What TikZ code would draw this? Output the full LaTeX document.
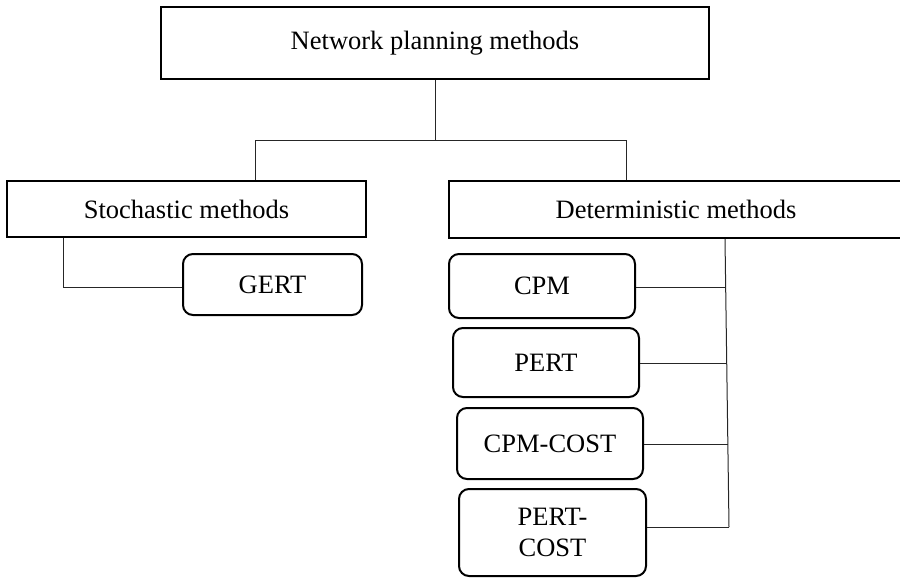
\documentclass[tikz,border=0pt]{standalone}
\usepackage{fontspec}
\setmainfont{Liberation Serif}
\begin{document}
\begin{tikzpicture}[x=1pt,y=-1pt,
  box/.style={draw=black, line width=2pt, inner sep=0pt, align=center,
    font=\fontsize{26.5}{31}\selectfont},
  rbox/.style={box, rounded corners=10pt},
  conn/.style={draw=black!85, line width=1pt}]
\useasboundingbox (0,0) rectangle (900,578);
\node[box, minimum width=548pt, minimum height=72pt] (top) at (435,43) {Network planning methods};
\node[box, minimum width=359pt, minimum height=56pt] (stoch) at (186.5,209) {Stochastic methods};
\node[box, minimum width=454pt, minimum height=57pt] (det) at (676,209.5) {Deterministic methods};
\node[rbox, minimum width=179pt, minimum height=61pt] (gert) at (272.5,284.5) {GERT};
\node[rbox, minimum width=186pt, minimum height=64pt] (cpm) at (542,286) {CPM};
\node[rbox, minimum width=186pt, minimum height=69pt] (pert) at (546,362.5) {PERT};
\node[rbox, minimum width=186pt, minimum height=71pt] (cpmcost) at (550,443.5) {CPM-COST};
\node[rbox, minimum width=187pt, minimum height=87pt] (pertcost) at (552.5,532.5) {PERT-\\COST};
% top tree
\coordinate (hl) at (255,140);
\coordinate (hr) at (626,140);
\draw[conn] (top.south) -- (top.south |- hl);
\draw[conn] (stoch.north -| hl) -- (hl) -- (hr) -- (det.north -| hr);
% stochastic
\coordinate (sg) at (63,287);
\draw[conn] (stoch.south -| sg) -- (sg) -- (gert.west |- sg);
% deterministic
\coordinate (v0) at (725,0);
\coordinate (c1) at (725.5,287);
\coordinate (c2) at (726.5,363);
\coordinate (c3) at (728,444);
\coordinate (c4) at (729,527);
\draw[conn] (det.south -| v0) -- (c4);
\draw[conn] (cpm.east |- c1) -- (c1);
\draw[conn] (pert.east |- c2) -- (c2);
\draw[conn] (cpmcost.east |- c3) -- (c3);
\draw[conn] (pertcost.east |- c4) -- (c4);
\end{tikzpicture}
\end{document}
